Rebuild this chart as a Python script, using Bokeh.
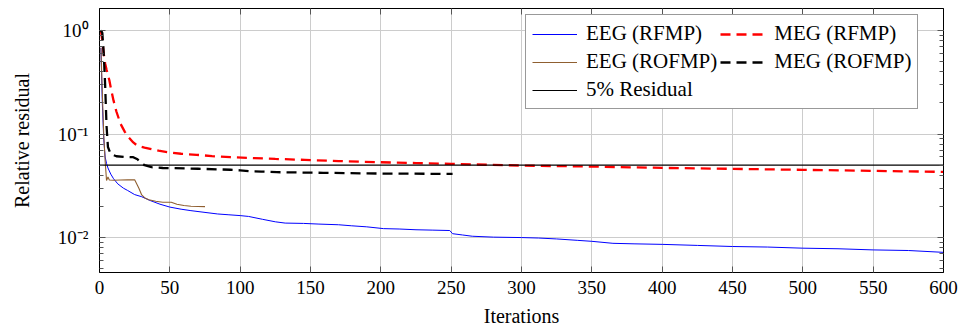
from bokeh.plotting import figure
from bokeh.models import (Range1d, LogAxis, LinearAxis, SingleIntervalTicker, LogTicker,
                          Legend, LegendItem, CustomJSTickFormatter, CustomLabelingPolicy)
from bokeh.embed import file_html
from bokeh.resources import INLINE

# ---------------- data ----------------
x_limits = [0, 600]
y_limits = [0.0046, 1.63]
threshold = 0.05

eeg_rfmp_it = [1, 2, 3, 4, 5, 6, 8, 10, 13, 17, 20, 25, 30, 36, 43, 50, 58, 65, 75, 84,
               92, 100, 106, 116, 125, 132, 145, 156, 170, 179, 190, 202, 213, 225, 237,
               249, 251, 258, 265, 280, 300, 312, 325, 340, 350, 365, 380, 400, 425, 450,
               475, 500, 525, 550, 575, 600]
eeg_rfmp_val = [0.68, 0.2, 0.09, 0.06, 0.052, 0.047, 0.041, 0.037, 0.033, 0.030, 0.0285,
                0.026, 0.0248, 0.0228, 0.021, 0.0197, 0.0188, 0.0182, 0.0175, 0.0169,
                0.0166, 0.0163, 0.0160, 0.0150, 0.0142, 0.0138, 0.0137, 0.0135, 0.0133,
                0.0130, 0.0127, 0.0122, 0.0121, 0.0119, 0.0118, 0.0117, 0.0109, 0.0106,
                0.0103, 0.0101, 0.0100, 0.0099, 0.0097, 0.0094, 0.0092, 0.0088, 0.0087,
                0.0086, 0.0084, 0.0082, 0.0081, 0.0079, 0.0078, 0.0076, 0.0075, 0.0072]

meg_rfmp_it = [1, 2, 3, 4, 5, 7, 8, 10, 12, 15, 18, 21, 24, 27, 32, 36, 42, 48, 58, 69,
               80, 93, 110, 125, 146, 170, 199, 225, 250, 275, 300, 350, 400, 450, 500,
               550, 600]
meg_rfmp_val = [1.0, 0.8, 0.6, 0.48, 0.42, 0.33, 0.28, 0.21, 0.165, 0.125, 0.105, 0.092,
                0.083, 0.077, 0.074, 0.072, 0.069, 0.0668, 0.0645, 0.063, 0.0612, 0.0597,
                0.0585, 0.0575, 0.0563, 0.0548, 0.0534, 0.0524, 0.0515, 0.0505, 0.0496,
                0.0485, 0.0471, 0.0461, 0.0451, 0.0441, 0.0431]

eeg_rofmp_it = [1, 2, 3, 4, 5, 6, 7, 10, 15, 20, 25, 28, 30, 32, 35, 40, 45, 51, 55, 60,
                65, 75]
eeg_rofmp_val = [0.68, 0.25, 0.1, 0.055, 0.0356, 0.0385, 0.036, 0.0358, 0.036, 0.0361,
                 0.0361, 0.030, 0.0258, 0.0243, 0.0232, 0.0224, 0.0219, 0.0219, 0.021,
                 0.0204, 0.0201, 0.0199]

meg_rofmp_it = [1, 2, 3, 4, 5, 6, 8, 12, 18, 24, 27, 29, 32, 37, 45, 53, 70, 93, 100, 107,
                115, 126, 159, 202, 251]
meg_rofmp_val = [1.0, 0.95, 0.6, 0.3, 0.12, 0.075, 0.064, 0.061, 0.060, 0.0597, 0.057,
                 0.0534, 0.050, 0.0478, 0.0470, 0.0468, 0.0462, 0.0452, 0.0446, 0.0437,
                 0.0434, 0.0428, 0.0422, 0.0415, 0.0412]

labels = ["EEG (RFMP)", "MEG (RFMP)", "EEG (ROFMP)", "MEG (ROFMP)", "5% Residual"]
x_label = "Iterations"
y_label = "Relative residual"

# ---------------- figure ----------------
FONT = "Liberation Serif"

p = figure(width=961, height=335, y_axis_type="log",
           x_range=Range1d(*x_limits), y_range=Range1d(*y_limits),
           output_backend="svg", toolbar_location=None,
           min_border_left=99, min_border_right=18, min_border_top=8, min_border_bottom=63)

p.outline_line_color = "black"
p.outline_line_width = 1

xticker = SingleIntervalTicker(interval=50, num_minor_ticks=0)
yticker = LogTicker(num_minor_ticks=10)

sup = CustomJSTickFormatter(code="""
const e = Math.round(Math.log10(tick));
const m = {'-':'\u207b','0':'\u2070','1':'\u00b9','2':'\u00b2','3':'\u00b3'};
return '10' + String(e).split('').map(c => m[c]).join('');
""")

xa = p.xaxis[0]
xa.ticker = xticker
xa.axis_label = x_label
ya = p.yaxis[0]
ya.ticker = yticker
ya.formatter = sup
ya.axis_label = y_label

for ax in (xa, ya):
    ax.major_tick_in = 6
    ax.major_tick_out = 0
    ax.minor_tick_in = 4
    ax.minor_tick_out = 0
    ax.axis_line_color = "black"
    ax.major_tick_line_color = "#555555"
    ax.minor_tick_line_color = "#555555"
    ax.major_label_text_font = FONT
    ax.major_label_text_font_size = "19px"
    ax.major_label_text_color = "black"
    ax.axis_label_text_font = FONT
    ax.axis_label_text_font_size = "20px"
    ax.axis_label_text_font_style = "normal"
    ax.axis_label_text_color = "black"

xa.major_label_standoff = 8
xa.axis_label_standoff = 8
ya.major_label_standoff = 11
ya.axis_label_standoff = 22

no_labels = CustomLabelingPolicy(code="""
for (const i of Array.from(indices)) { indices.unset(i) }
return indices
""")

top = LinearAxis(ticker=xticker)
right = LogAxis(ticker=yticker)
for ax in (top, right):
    ax.major_tick_in = 6
    ax.major_tick_out = 0
    ax.minor_tick_in = 4
    ax.minor_tick_out = 0
    ax.major_tick_line_color = "#555555"
    ax.minor_tick_line_color = "#555555"
    ax.major_label_policy = no_labels
    ax.major_label_text_font_size = "1px"
    ax.major_label_standoff = 0
    ax.axis_line_color = "black"
p.add_layout(top, "above")
p.add_layout(right, "right")

p.xgrid.grid_line_color = "#cccccc"
p.ygrid.grid_line_color = "#cccccc"
p.xgrid.grid_line_width = 1
p.ygrid.grid_line_width = 1

# ---------------- series ----------------
r1 = p.line(eeg_rfmp_it, eeg_rfmp_val, line_color="#0000ff", line_width=1)
r2 = p.line(meg_rfmp_it, meg_rfmp_val, line_color="#ff0000", line_width=2.3, line_dash="10 6")
r3 = p.line(eeg_rofmp_it, eeg_rofmp_val, line_color="#8f5f30", line_width=1.1)
r4 = p.line(meg_rofmp_it, meg_rofmp_val, line_color="black", line_width=2.3, line_dash="10 6")
r5 = p.line(x_limits, [threshold] * len(x_limits), line_color="black", line_width=1.2)

items = [LegendItem(label=lab, renderers=[r]) for lab, r in zip(labels, [r1, r2, r3, r4, r5])]

legend = Legend(items=items, location=(426, 163), orientation="horizontal", ncols=2,
                margin=0, padding=6, spacing=3, label_standoff=9,
                glyph_width=45, glyph_height=22, label_height=22,
                label_text_font=FONT, label_text_font_size="21px", label_text_color="black",
                border_line_color="#333333", border_line_width=1,
                background_fill_color="white", background_fill_alpha=1)
p.add_layout(legend)

open("out.html", "w").write(file_html(p, INLINE))
